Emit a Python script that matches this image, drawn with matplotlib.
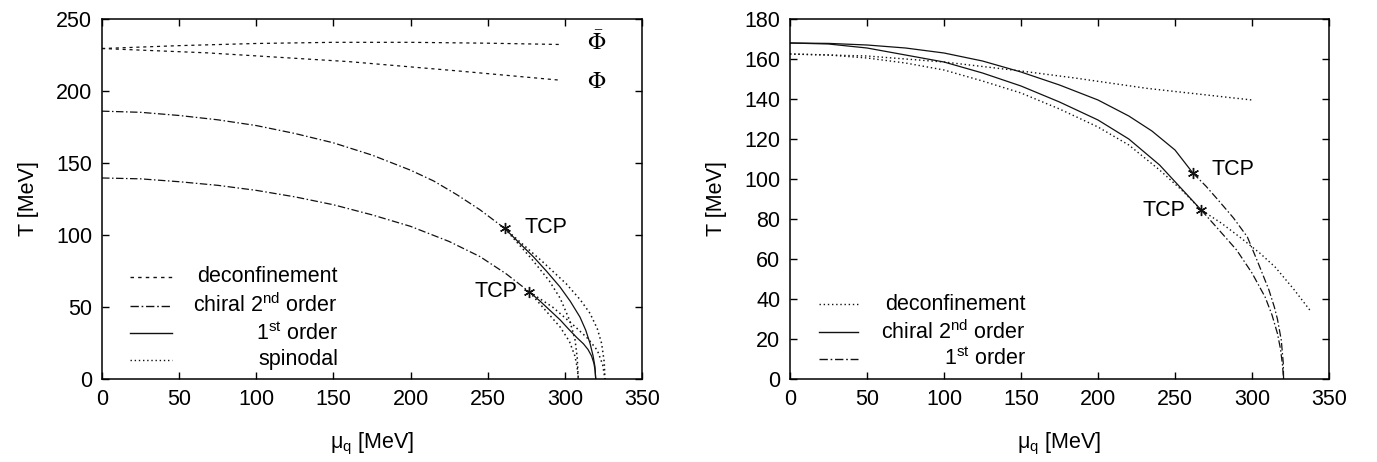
import matplotlib
matplotlib.use('Agg')
import numpy as np
from matplotlib import pyplot as plt

plt.rcParams['font.family'] = ['Liberation Sans', 'DejaVu Sans']
plt.rcParams['mathtext.fontset'] = 'custom'
plt.rcParams['mathtext.rm'] = 'Liberation Sans'
plt.rcParams['mathtext.it'] = 'Liberation Sans:italic'

# ---- left panel data (mu_q, T) in MeV ----
phibar_mu = [0, 50, 100, 150, 200, 250, 297]
phibar_T = [229.5, 231.5, 233, 233.8, 233.8, 233.2, 232.3]
phi_mu = [0, 68, 160, 230, 297]
phi_T = [229.5, 226.5, 220.4, 214, 207.5]

chi_up_mu = [0, 25, 50, 75, 100, 125, 150, 175, 200, 215, 230, 245, 261]
chi_up_T = [186, 185.2, 183, 180, 176, 170.5, 164, 155.5, 145, 137.5, 128, 117.5, 104.6]
chi_lo_mu = [0, 25, 50, 75, 100, 125, 150, 175, 200, 225, 245, 262, 277]
chi_lo_T = [139.6, 139, 137, 134.5, 131, 126.5, 121, 114, 106, 95.5, 85, 73, 60.5]

fo_up_mu = [261, 270, 279.5, 288, 296.8, 303.5, 309.8, 313.5, 316.3, 318.3, 319.5, 320]
fo_up_T = [104.6, 95, 85, 75, 64, 54, 43, 34, 24.8, 16, 8.6, 0]
fo_lo_mu = [277, 284, 290, 297, 303, 308, 312, 315, 317.3, 318.8, 319.6, 320]
fo_lo_T = [60.5, 54, 48, 41, 34, 28.5, 24.5, 20.5, 16, 11, 6, 0]

sp_up_in_mu = [261, 278, 290, 297, 303, 306.5, 308, 308.7]
sp_up_in_T = [104.6, 84, 68, 56, 41, 28, 15, 0]
sp_up_out_mu = [261, 286, 301, 310, 316.3, 321, 323.8, 325.5, 326]
sp_up_out_T = [104.6, 81, 66, 55, 45.6, 35, 24.8, 12, 0]
sp_lo_in_mu = [277, 288, 297, 303, 306.5, 308, 308.7]
sp_lo_in_T = [60.5, 47, 36, 26, 16, 8, 0]
sp_lo_out_mu = [277, 292, 305, 315, 321, 324.5, 326]
sp_lo_out_T = [60.5, 50, 38, 28, 20, 10, 0]

tcp_left_mu = [261, 277]
tcp_left_T = [104.6, 60.5]

# ---- right panel data ----
dec_flat_mu = [0, 50, 100, 150, 185, 232, 300]
dec_flat_T = [162.5, 161.5, 158.5, 154, 150.5, 145.3, 139.5]
dec_low_mu = [0, 25, 50, 75, 100, 125, 150, 175, 200, 220, 240, 255, 267,
              280, 292, 305, 315, 327, 338.5]
dec_low_T = [162.5, 162, 160.5, 158, 154.5, 149, 143, 135, 126, 117, 104.5, 94, 84.5,
             78, 71, 63, 56, 45, 33.5]

ch_up_mu = [0, 25, 50, 75, 100, 125, 150, 175, 200, 220, 235, 250, 261.6]
ch_up_T = [168, 167.8, 167, 165.5, 163, 159, 153.5, 147, 139.5, 131.5, 124, 114.5, 103]
ch_lo_mu = [0, 25, 50, 75, 100, 125, 150, 175, 200, 220, 240, 255, 267]
ch_lo_T = [168, 167.5, 165.5, 162, 158.5, 153, 146.5, 138.5, 129.5, 120, 107, 94.5, 84.5]

fo_r_up_mu = [261.6, 270, 278, 288, 297, 304, 311, 314.5, 316.5, 319, 320.3, 320.5]
fo_r_up_T = [103, 96.5, 89.5, 80.5, 71, 58, 44.5, 36, 30, 19.5, 8, 0]
fo_r_lo_mu = [267, 278, 290, 300, 308.5, 313, 316.5, 318.5, 319.8, 320.5]
fo_r_lo_T = [84.5, 75, 64.5, 53, 41, 32, 22.8, 15, 7, 0]

tcp_right_mu = [261.6, 267]
tcp_right_T = [103, 84.5]

FS = 15.5
lw = 0.9
col = '#111111'
dec_ls = (0, (2.5, 3))
sp_ls = (0, (1, 2))
dd_ls = (0, (6, 2, 1.2, 2))
dot_ls = (0, (1, 2))

fig = plt.figure(figsize=(13.77, 4.62), dpi=100)
axl = fig.add_axes([102 / 1377, 83 / 462, 540 / 1377, 360 / 462])
axr = fig.add_axes([790 / 1377, 83 / 462, 539 / 1377, 360 / 462])

# left panel
axl.plot(phibar_mu, phibar_T, color=col, lw=lw, ls=dec_ls)
axl.plot(phi_mu, phi_T, color=col, lw=lw, ls=dec_ls)
axl.plot(chi_up_mu, chi_up_T, color=col, lw=lw, ls=dd_ls)
axl.plot(chi_lo_mu, chi_lo_T, color=col, lw=lw, ls=dd_ls)
axl.plot(fo_up_mu, fo_up_T, color=col, lw=lw)
axl.plot(fo_lo_mu, fo_lo_T, color=col, lw=lw)
for m, t in [(sp_up_in_mu, sp_up_in_T), (sp_up_out_mu, sp_up_out_T),
             (sp_lo_in_mu, sp_lo_in_T), (sp_lo_out_mu, sp_lo_out_T)]:
    axl.plot(m, t, color=col, lw=1.1, ls=sp_ls)
axl.plot(tcp_left_mu, tcp_left_T, ls='none', marker=(6, 2, 0), ms=8, mew=1, color=col)
axl.text(274, 105, 'TCP', fontsize=FS, va='center', ha='left')
axl.text(269, 60.5, 'TCP', fontsize=FS, va='center', ha='right')
axl.text(320.5, 233, r'$\bar{\Phi}$', fontsize=17, ha='center', va='center', math_fontfamily='stix')
axl.text(320.5, 206.5, r'$\Phi$', fontsize=17, ha='center', va='center', math_fontfamily='stix')
axl.set_xlim(0, 350)
axl.set_ylim(0, 250)
axl.set_yticks(np.arange(0, 251, 50))

# right panel
axr.plot(dec_flat_mu, dec_flat_T, color=col, lw=1.0, ls=dot_ls)
axr.plot(dec_low_mu, dec_low_T, color=col, lw=1.0, ls=dot_ls)
axr.plot(ch_up_mu, ch_up_T, color=col, lw=lw)
axr.plot(ch_lo_mu, ch_lo_T, color=col, lw=lw)
axr.plot(fo_r_up_mu, fo_r_up_T, color=col, lw=lw, ls=dd_ls)
axr.plot(fo_r_lo_mu, fo_r_lo_T, color=col, lw=lw, ls=dd_ls)
axr.plot(tcp_right_mu, tcp_right_T, ls='none', marker=(6, 2, 0), ms=8, mew=1, color=col)
axr.text(273.5, 104.7, 'TCP', fontsize=FS, va='center', ha='left')
axr.text(257, 84, 'TCP', fontsize=FS, va='center', ha='right')
axr.set_xlim(0, 350)
axr.set_ylim(0, 180)
axr.set_yticks(np.arange(0, 181, 20))

for ax in (axl, axr):
    ax.set_xticks(np.arange(0, 351, 50))
    ax.tick_params(direction='in', length=5, width=1, top=True, right=True,
                   labelsize=FS, pad=7)
    for s in ax.spines.values():
        s.set_linewidth(1.1)
    ax.set_xlabel('μ$_\\mathrm{q}$ [MeV]', fontsize=FS, labelpad=15)
    ax.set_ylabel('T [MeV]', fontsize=FS, labelpad=12)


def key(ax, rows, x0, x1, xt):
    for y, style, label in rows:
        ax.plot([x0, x1], [y, y], transform=ax.transAxes, color=col, lw=1.0, ls=style,
                clip_on=False)
        ax.text(xt, y, label, transform=ax.transAxes, ha='right', va='center', fontsize=FS)


key(axl, [(0.284, dec_ls, 'deconfinement'),
          (0.204, dd_ls, 'chiral 2$^{\\mathrm{nd}}$ order'),
          (0.127, '-', '1$^{\\mathrm{st}}$ order'),
          (0.053, sp_ls, 'spinodal')], 0.052, 0.13, 0.437)
key(axr, [(0.208, dot_ls, 'deconfinement'),
          (0.131, '-', 'chiral 2$^{\\mathrm{nd}}$ order'),
          (0.056, dd_ls, '1$^{\\mathrm{st}}$ order')], 0.053, 0.126, 0.438)

fig.savefig('out.png', dpi=100)
